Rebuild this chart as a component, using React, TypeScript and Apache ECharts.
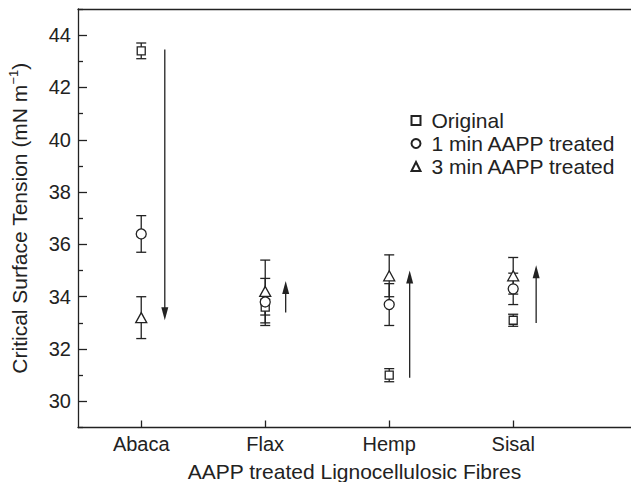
import React, { useEffect, useRef } from "react";
import * as echarts from "echarts";

const categories = ["Abaca", "Flax", "Hemp", "Sisal"];
const categoryX = [1, 2, 3, 4];

const originalMean = [43.4, 33.6, 31.0, 33.1];
const originalErr = [0.3, 0.3, 0.25, 0.23];
const oneMinMean = [36.4, 33.8, 33.7, 34.3];
const oneMinErr = [0.7, 0.9, 0.8, 0.6];
const threeMinMean = [33.2, 34.2, 34.8, 34.8];
const threeMinErr = [0.8, 1.2, 0.8, 0.7];

const arrowX = [1.19, 2.165, 3.165, 4.185];
const arrowFrom = [43.45, 33.4, 30.9, 33.0];
const arrowTo = [33.1, 34.6, 35.0, 35.2];

const yLabelValues = [30, 32, 34, 36, 38, 40, 42, 44];

const seriesNames = ["Original", "1 min AAPP treated", "3 min AAPP treated"];

const FONT = "'Liberation Sans', Arial, Helvetica, sans-serif";
const INK = "#222";

function errorData(means: number[], errs: number[]) {
  return means.map((m, i) => [categoryX[i], m - errs[i], m + errs[i]]);
}

function errorSeries(means: number[], errs: number[]) {
  return {
    type: "custom",
    silent: true,
    z: 2,
    encode: { x: 0, y: [1, 2] },
    data: errorData(means, errs),
    renderItem: (params: any, api: any) => {
      const x = api.value(0);
      const lo = api.coord([x, api.value(1)]);
      const hi = api.coord([x, api.value(2)]);
      const hw = 5;
      const style = { stroke: INK, lineWidth: 1.3 };
      return {
        type: "group",
        children: [
          { type: "line", shape: { x1: lo[0], y1: lo[1], x2: hi[0], y2: hi[1] }, style },
          { type: "line", shape: { x1: lo[0] - hw, y1: lo[1], x2: lo[0] + hw, y2: lo[1] }, style },
          { type: "line", shape: { x1: hi[0] - hw, y1: hi[1], x2: hi[0] + hw, y2: hi[1] }, style },
        ],
      };
    },
  };
}

function pointSeries(name: string, means: number[], symbol: string, size: any) {
  return {
    type: "scatter",
    name,
    symbol,
    symbolSize: size,
    z: 5,
    itemStyle: { color: "#fff", borderColor: INK, borderWidth: 1.3, opacity: 1 },
    data: means.map((m, i) => [categoryX[i], m]),
  };
}

export default function App() {
  const ref = useRef<HTMLDivElement>(null);

  useEffect(() => {
    if (!ref.current) return;
    const chart = echarts.init(ref.current, undefined, { renderer: "svg" });

    const arrowData = arrowX.map((x, i) => [x, arrowFrom[i], arrowTo[i]]);

    const option: any = {
      animation: false,
      backgroundColor: "#fff",
      textStyle: { fontFamily: FONT, color: INK },
      grid: { left: 78, right: 0, top: 9, bottom: 54.5, containLabel: false, outerBoundsMode: "none" },
      legend: {
        data: seriesNames,
        orient: "vertical",
        left: 410.5,
        top: 110,
        padding: 0,
        itemWidth: 9,
        itemHeight: 9,
        itemGap: 2,
        selectedMode: false,
        textStyle: { fontFamily: FONT, fontSize: 21, color: INK, lineHeight: 20, padding: [0, 0, 0, 6] },
      },
      xAxis: [
        {
          type: "value",
          min: 0.49,
          max: 4.95,
          name: "AAPP treated Lignocellulosic Fibres",
          nameLocation: "middle",
          nameGap: 33,
          nameTextStyle: { fontFamily: FONT, fontSize: 21, color: INK },
          splitLine: { show: false },
          axisLine: { show: true, onZero: false, lineStyle: { color: INK, width: 1.3 } },
          axisTick: { show: true, inside: true, length: 7, customValues: categoryX, lineStyle: { color: INK, width: 1.3 } },
          axisLabel: {
            customValues: categoryX,
            formatter: (v: number) => categories[Math.round(v) - 1] ?? "",
            fontFamily: FONT,
            fontSize: 20,
            color: INK,
            margin: 6,
          },
        },
        {
          type: "value",
          position: "top",
          min: 0.49,
          max: 4.95,
          splitLine: { show: false },
          axisLine: { show: true, onZero: false, lineStyle: { color: INK, width: 1.3 } },
          axisTick: { show: false },
          axisLabel: { show: false },
        },
      ],
      yAxis: [
        {
          type: "value",
          min: 29,
          max: 45,
          interval: 2,
          name: "{a|Critical Surface Tension (mN m}{s|−1}{a|)}",
          nameLocation: "middle",
          nameGap: 47,
          nameRotate: 90,
          nameTextStyle: {
            rich: {
              a: { fontFamily: FONT, fontSize: 21, color: INK, lineHeight: 24 },
              s: { fontFamily: FONT, fontSize: 13, color: INK, lineHeight: 14, verticalAlign: "top" },
            },
          },
          splitLine: { show: false },
          minorSplitLine: { show: false },
          axisLine: { show: true, onZero: false, lineStyle: { color: INK, width: 1.3 } },
          axisTick: { show: true, inside: true, length: 5, lineStyle: { color: INK, width: 1.3 } },
          minorTick: { show: true, splitNumber: 2, length: 9, lineStyle: { color: INK, width: 1.3 } },
          axisLabel: {
            customValues: yLabelValues,
            fontFamily: FONT,
            fontSize: 20,
            color: INK,
            margin: 7,
          },
        },
      ],
      series: [
        errorSeries(originalMean, originalErr),
        errorSeries(oneMinMean, oneMinErr),
        errorSeries(threeMinMean, threeMinErr),
        pointSeries(seriesNames[0], originalMean, "rect", 8),
        pointSeries(seriesNames[1], oneMinMean, "circle", 10),
        pointSeries(seriesNames[2], threeMinMean, "triangle", [11, 10]),
        {
          type: "custom",
          silent: true,
          z: 3,
          encode: { x: 0, y: [1, 2] },
          data: arrowData,
          renderItem: (params: any, api: any) => {
            const x = api.value(0);
            const p1 = api.coord([x, api.value(1)]);
            const p2 = api.coord([x, api.value(2)]);
            const dir = p2[1] > p1[1] ? 1 : -1;
            const headLen = 13;
            const hw = 3.5;
            const baseY = p2[1] - dir * headLen;
            return {
              type: "group",
              children: [
                {
                  type: "line",
                  shape: { x1: p1[0], y1: p1[1], x2: p2[0], y2: baseY + dir * 2 },
                  style: { stroke: INK, lineWidth: 1.3 },
                },
                {
                  type: "polygon",
                  shape: {
                    points: [
                      [p2[0], p2[1]],
                      [p2[0] - hw, baseY],
                      [p2[0] + hw, baseY],
                    ],
                  },
                  style: { fill: INK },
                },
              ],
            };
          },
        },
      ],
    };

    chart.setOption(option);
    return () => chart.dispose();
  }, []);

  return (
    <div
      ref={ref}
      style={{ position: "fixed", left: 0, top: 0, width: 631, height: 482, background: "#fff" }}
    />
  );
}
